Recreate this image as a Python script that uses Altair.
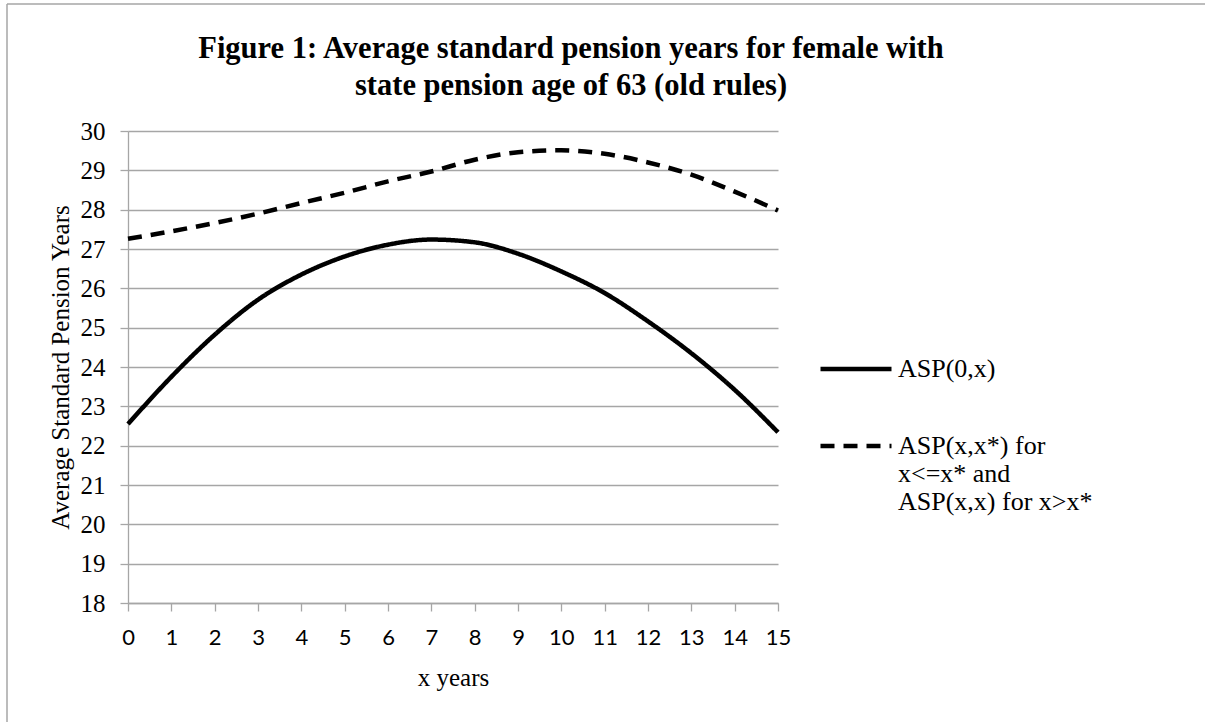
import altair as alt
import pandas as pd

# ---- data ----
x_years = list(range(16))
asp_0x = [22.55, 23.75, 24.82, 25.71, 26.35, 26.81, 27.11, 27.24, 27.17, 26.88, 26.43, 25.88, 25.16, 24.35, 23.42, 22.34]
asp_xx = [27.26, 27.45, 27.66, 27.90, 28.17, 28.43, 28.72, 28.97, 29.27, 29.46, 29.51, 29.42, 29.20, 28.89, 28.46, 27.98]
series_names = ["ASP(0,x)", "ASP(x,x*) for|x<=x* and|ASP(x,x) for x>x*"]
x_ticks = list(range(0, 16))
y_ticks = list(range(18, 31))
title_lines = ["Figure 1: Average standard pension years for female with",
               "state pension age of 63 (old rules)"]
x_title = "x years"
y_title = "Average Standard Pension Years"

rows = []
for xv, a, b in zip(x_years, asp_0x, asp_xx):
    rows.append({"x": xv, "value": a, "series": series_names[0]})
    rows.append({"x": xv, "value": b, "series": series_names[1]})
df = pd.DataFrame(rows)

GRAY = "#a6a6a6"
SERIF = "Liberation Serif"

lines = alt.Chart(df).mark_line(
    strokeWidth=4.5, interpolate="monotone", color="black", strokeCap="butt"
).encode(
    x=alt.X("x:Q",
            scale=alt.Scale(domain=[0, 15], nice=False, zero=False),
            axis=alt.Axis(values=x_ticks, title=x_title, grid=False, format="d",
                          domainColor=GRAY, domainWidth=1.3, tickColor=GRAY,
                          tickSize=8, tickWidth=1.3, labelFont="Lato",
                          labelFontSize=22, labelColor="black", labelPadding=16,
                          labelFlush=False, labelOverlap=False,
                          titleFont=SERIF, titleFontSize=25, titleFontWeight="normal",
                          titleColor="black", titlePadding=17)),
    y=alt.Y("value:Q",
            scale=alt.Scale(domain=[18, 30], nice=False, zero=False),
            axis=alt.Axis(values=y_ticks, title=y_title, grid=True, format="d",
                          gridColor=GRAY, gridWidth=1.3,
                          domainColor=GRAY, domainWidth=1.3, tickColor=GRAY,
                          tickSize=8, tickWidth=1.3, labelFont=SERIF,
                          labelFontSize=25, labelColor="black", labelPadding=15,
                          labelOverlap=False,
                          titleFont=SERIF, titleFontSize=25, titleFontWeight="normal",
                          titleColor="black", titlePadding=7)),
    strokeDash=alt.StrokeDash(
        "series:N",
        scale=alt.Scale(domain=series_names, range=[[1, 0], [14, 9]]),
        legend=alt.Legend(title=None, orient="none", legendX=690, legendY=200,
                          symbolType="stroke", symbolSize=5041, symbolStrokeWidth=4.5,
                          symbolStrokeColor="black", labelFont=SERIF,
                          labelFontSize=26, labelColor="black", labelOffset=4,
                          labelLimit=600, labelExpr="split(datum.label, '|')",
                          rowPadding=26, padding=0)),
)

frame_src = pd.DataFrame({"k": [0]})
frame_top = alt.Chart(frame_src).mark_rule(color=GRAY, strokeWidth=1.5).encode(
    x=alt.value(-121), x2=alt.value(1077), y=alt.value(-127))
frame_left = alt.Chart(frame_src).mark_rule(color=GRAY, strokeWidth=1.5).encode(
    x=alt.value(-121), y=alt.value(-127), y2=alt.value(591))

chart = alt.layer(frame_top, frame_left, lines).properties(
    width=650, height=472,
    autosize=alt.AutoSizeParams(type="none"),
    padding={"left": 128, "top": 131, "right": 427, "bottom": 119},
    title=alt.TitleParams(text=title_lines, font=SERIF, fontSize=30.5, fontWeight="bold",
                          color="black", anchor="middle", dx=118, dy=118, offset=20,
                          lineHeight=37),
    background="white",
).configure_view(stroke=None)

chart.save("out.html", embed_options={"renderer": "svg", "actions": False})
